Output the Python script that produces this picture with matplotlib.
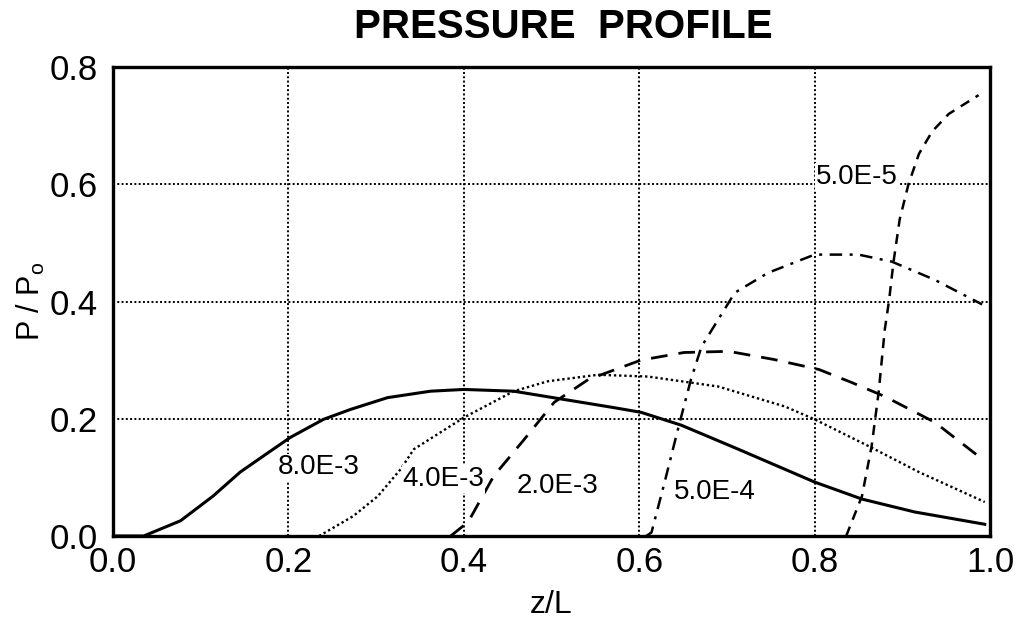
"""Pressure profile along the channel for several flow parameters."""

import matplotlib
matplotlib.use("Agg")
import matplotlib.pyplot as plt

plt.rcParams["font.family"] = ["Liberation Sans", "DejaVu Sans"]
plt.rcParams["mathtext.fontset"] = "custom"
plt.rcParams["mathtext.rm"] = "Liberation Sans"

# z/L and P/Po for each curve
z_8e3 = [0.0, 0.035, 0.077, 0.114, 0.145, 0.171, 0.202, 0.24, 0.271, 0.313,
         0.362, 0.40, 0.457, 0.514, 0.571, 0.602, 0.648, 0.713, 0.80, 0.854,
         0.914, 0.994]
p_8e3 = [0.0, 0.0, 0.026, 0.068, 0.109, 0.136, 0.168, 0.199, 0.216, 0.236,
         0.247, 0.25, 0.247, 0.233, 0.219, 0.211, 0.189, 0.148, 0.092, 0.063,
         0.041, 0.02]

z_4e3 = [0.235, 0.274, 0.302, 0.328, 0.343, 0.40, 0.457, 0.496, 0.553, 0.61,
         0.69, 0.766, 0.80, 0.862, 0.919, 0.994]
p_4e3 = [0.0, 0.034, 0.068, 0.114, 0.148, 0.202, 0.247, 0.264, 0.275, 0.272,
         0.255, 0.221, 0.199, 0.153, 0.109, 0.058]

z_2e3 = [0.385, 0.405, 0.434, 0.469, 0.503, 0.542, 0.602, 0.651, 0.702,
         0.754, 0.805, 0.842, 0.88, 0.937, 0.987]
p_2e3 = [0.0, 0.024, 0.102, 0.165, 0.228, 0.267, 0.30, 0.313, 0.315, 0.301,
         0.284, 0.262, 0.238, 0.194, 0.136]

z_5e4 = [0.608, 0.614, 0.629, 0.645, 0.659, 0.671, 0.69, 0.709, 0.747, 0.80,
         0.85, 0.888, 0.937, 0.991]
p_5e4 = [0.0, 0.006, 0.092, 0.187, 0.267, 0.323, 0.369, 0.415, 0.449, 0.48,
         0.48, 0.468, 0.437, 0.395]

z_5e5 = [0.836, 0.854, 0.865, 0.873, 0.88, 0.885, 0.89, 0.897, 0.907, 0.919,
         0.934, 0.953, 0.987]
p_5e5 = [0.0, 0.068, 0.153, 0.245, 0.352, 0.403, 0.468, 0.54, 0.60, 0.652,
         0.69, 0.72, 0.752]

curve_labels = ["8.0E-3", "4.0E-3", "2.0E-3", "5.0E-4", "5.0E-5"]
x_ticks = [0.0, 0.2, 0.4, 0.6, 0.8, 1.0]
y_ticks = [0.0, 0.2, 0.4, 0.6, 0.8]

fig = plt.figure(figsize=(10.2, 6.28), dpi=100)
ax = fig.add_axes([0.1108, 0.1465, 0.8598, 0.7468])

ax.plot(z_8e3, p_8e3, color="black", lw=2.2, ls="-")
ax.plot(z_4e3, p_4e3, color="black", lw=1.7, ls=(0, (1, 1.2)))
ax.plot(z_2e3, p_2e3, color="black", lw=2.0, ls=(0, (6, 4)))
ax.plot(z_5e4, p_5e4, color="black", lw=1.8, ls=(0, (5, 3, 1.2, 3)))
ax.plot(z_5e5, p_5e5, color="black", lw=1.8, ls=(0, (4, 3)))

# curve annotations (x, y in data units)
label_pos = [(0.234, 0.117), (0.377, 0.097), (0.507, 0.085),
             (0.686, 0.075), (0.848, 0.613)]
for text, (x, y) in zip(curve_labels, label_pos):
    ax.text(x, y, text, ha="center", va="center", fontsize=20,
            bbox=dict(facecolor="white", edgecolor="none", pad=0.5))

ax.set_xlim(0, 1)
ax.set_ylim(0, 0.8)
ax.set_xticks(x_ticks)
ax.set_yticks(y_ticks)
ax.set_xticklabels([f"{t:.1f}" for t in x_ticks])
ax.set_yticklabels([f"{t:.1f}" for t in y_ticks])
ax.tick_params(length=0, labelsize=25, pad=7)
ax.tick_params(axis="y", pad=11)
ax.grid(True, color="black", ls=(0, (1, 1.2)), lw=1.4)
for sp in ax.spines.values():
    sp.set_linewidth(2.4)

ax.set_xlabel("z/L", fontsize=23, labelpad=8)
ax.set_ylabel("P / P$_\\mathregular{o}$", fontsize=22, labelpad=2)
fig.text(0.552, 0.957, "PRESSURE  PROFILE", ha="center", va="center",
         fontsize=29, fontweight="bold")

fig.savefig("out.png", dpi=100)
